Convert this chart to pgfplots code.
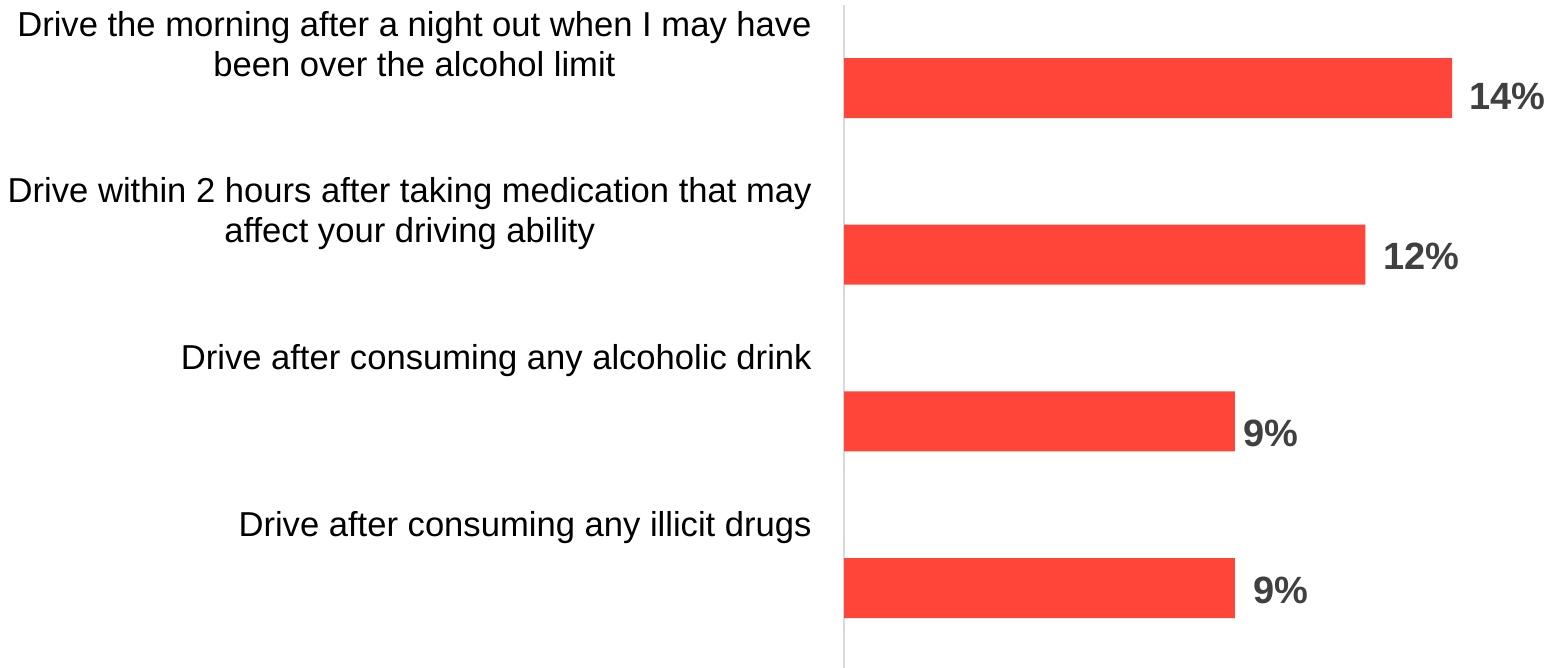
\documentclass[border=0pt]{standalone}
\usepackage{pgfplots}
\pgfplotsset{compat=1.18}
\usepackage{pgfplotstable}
\usepackage{fontspec}
\setmainfont{Liberation Sans}
\definecolor{barred}{HTML}{FF453A}
\definecolor{valgray}{HTML}{404040}
\definecolor{axgray}{HTML}{D9D9D9}
\pgfplotstableread{
k v dx dy
0 14 8.5 -4
1 12 9 -1
2 9 4 -6
3 9 9 -1
}\datatable
\begin{document}
\begin{tikzpicture}
\path[use as bounding box] (0,0) rectangle (773.5bp,334bp);
\begin{axis}[
  at={(422bp,0bp)}, anchor=south west,
  width=347.5bp, height=331.5bp, scale only axis,
  xmin=0, xmax=16, ymin=-0.498, ymax=3.48, y dir=reverse,
  axis x line=none, axis y line*=left,
  y axis line style={draw=axgray, line width=1.1bp},
  ytick=\empty,
  xbar, bar width=0.36,
  clip=false,
  /pgf/number format/assume math mode=true,
]
\addplot[fill=barred, draw=none,
  nodes near coords={\pgfmathprintnumber{\pgfplotspointmeta}\%}, point meta=x,
  visualization depends on={\thisrow{dx} \as \mydx},
  visualization depends on={\thisrow{dy} \as \mydy},
  every node near coord/.append style={anchor=west, xshift=\mydx bp, yshift=\mydy bp,
    font=\fontsize{19bp}{22bp}\selectfont\bfseries, text=valgray, inner sep=0pt}
] table[x=v,y=k] {\datatable};
\tikzset{catlab/.style={anchor=base east, inner sep=0pt, xshift=-16bp, yshift=26bp,
  font=\fontsize{17.3bp}{20bp}\selectfont}}
\node[catlab] at (axis cs:0,0) {\begin{tabular}[t]{@{}c@{}}Drive the morning after a night out when I may have\\been over the alcohol limit\end{tabular}};
\node[catlab] at (axis cs:0,1) {\begin{tabular}[t]{@{}c@{}}Drive within 2 hours after taking medication that may\\affect your driving ability\end{tabular}};
\node[catlab] at (axis cs:0,2) {\begin{tabular}[t]{@{}c@{}}Drive after consuming any alcoholic drink\end{tabular}};
\node[catlab] at (axis cs:0,3) {\begin{tabular}[t]{@{}c@{}}Drive after consuming any illicit drugs\end{tabular}};
\end{axis}
\end{tikzpicture}
\end{document}
